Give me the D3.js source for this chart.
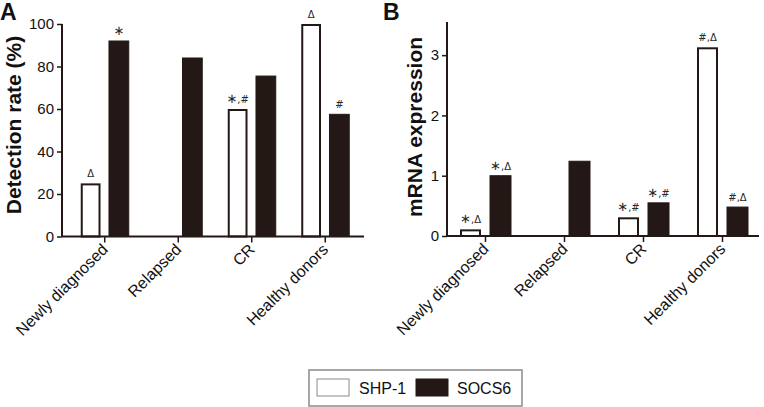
<!DOCTYPE html>
<html>
<head>
<meta charset="utf-8">
<script src="https://cdn.jsdelivr.net/npm/d3@7"></script>
<style>
  html, body { margin: 0; padding: 0; background: #fff; }
  svg { display: block; font-family: Arial, "Liberation Sans", sans-serif; }
</style>
</head>
<body>
<svg id="chart" width="764" height="407"></svg>
<script>
// ---------- data ----------
const categories = ["Newly diagnosed", "Relapsed", "CR", "Healthy donors"];
const seriesNames = ["SHP-1", "SOCS6"];

const detectionSHP1 = [25, 0, 60, 100];
const detectionSOCS6 = [92, 84, 75.5, 57.5];
const detectionTicks = [0, 20, 40, 60, 80, 100];
const detectionMarksSHP1 = ["Δ", "", "∗,#", "Δ"];
const detectionMarksSOCS6 = ["∗", "", "", "#"];

const mrnaSHP1 = [0.11, 0, 0.31, 3.13];
const mrnaSOCS6 = [1.0, 1.24, 0.55, 0.48];
const mrnaTicks = [0, 1, 2, 3];
const mrnaMarksSHP1 = ["∗,Δ", "", "∗,#", "#,Δ"];
const mrnaMarksSOCS6 = ["∗,Δ", "", "∗,#", "#,Δ"];

const dark = "#231815";
const svg = d3.select("#chart");

function panel(opts) {
  const g = svg.append("g");
  const x0 = d3.scaleBand().domain(categories).range(opts.xRange).padding(0);
  const x1 = d3.scaleBand().domain(seriesNames).range([-opts.half, opts.half]).paddingInner(0.3).paddingOuter(0);
  const y = d3.scaleLinear().domain(opts.yDomain).range(opts.yRange);

  const rows = categories.map((c, i) => ({
    cat: c,
    vals: [
      { s: "SHP-1", v: opts.a[i], m: opts.ma[i] },
      { s: "SOCS6", v: opts.b[i], m: opts.mb[i] }
    ]
  }));

  const grp = g.selectAll("g.grp").data(rows).join("g")
    .attr("transform", d => `translate(${x0(d.cat) + x0.bandwidth() / 2},0)`);

  grp.selectAll("rect").data(d => d.vals.filter(v => v.v > 0)).join("rect")
    .attr("x", d => x1(d.s) + (d.s === "SHP-1" ? 1 : 0))
    .attr("width", d => x1.bandwidth() - (d.s === "SHP-1" ? 2 : 0))
    .attr("y", d => y(d.v) + (d.s === "SHP-1" ? 1 : 0))
    .attr("height", d => y(0) - y(d.v) - (d.s === "SHP-1" ? 1 : 0))
    .attr("fill", d => d.s === "SHP-1" ? "#fff" : dark)
    .attr("stroke", dark)
    .attr("stroke-width", d => d.s === "SHP-1" ? 2 : 1);

  const marks = grp.selectAll("text.mark").data(d => d.vals.filter(v => v.m)).join("text")
    .attr("class", "mark")
    .attr("x", d => x1(d.s) + x1.bandwidth() / 2)
    .attr("y", d => y(d.v) - 6)
    .attr("text-anchor", "middle")
    .attr("font-family", "'DejaVu Sans', sans-serif")
    .attr("fill", "#2a2a2a");
  marks.selectAll("tspan").data(d => Array.from(d.m)).join("tspan")
    .attr("font-size", c => c === "∗" ? 13 : 10)
    .text(c => c);

  // y axis
  const ya = g.append("g")
    .attr("transform", `translate(${opts.axisX},0)`)
    .call(d3.axisLeft(y).tickValues(opts.ticks).tickSize(5).tickPadding(3).tickFormat(d3.format("d")));
  ya.select(".domain").attr("stroke", dark).attr("stroke-width", 2)
    .attr("d", `M0,${opts.axisTop}V${y(0)}`);
  ya.selectAll(".tick line").attr("stroke", dark).attr("stroke-width", 1.5);
  ya.selectAll(".tick text").attr("font-size", 15).attr("fill", "#111")
    .attr("font-family", "Arial, 'Liberation Sans', sans-serif");

  // x axis
  const xa = g.append("g")
    .attr("transform", `translate(0,${y(0)})`)
    .call(d3.axisBottom(x0).tickSize(6).tickFormat(""));
  xa.select(".domain").attr("stroke", dark).attr("stroke-width", 2)
    .attr("d", `M${opts.axisX},0H${opts.xEnd}`);
  xa.selectAll(".tick line").attr("stroke", dark).attr("stroke-width", 1.5);

  g.selectAll("text.xlab").data(categories).join("text")
    .attr("class", "xlab")
    .attr("transform", d => `translate(${x0(d) + x0.bandwidth() / 2 + 4},${y(0) + 14}) rotate(-45)`)
    .attr("text-anchor", "end")
    .attr("font-size", 16)
    .attr("fill", "#111")
    .text(d => d);

  // y title
  g.append("text")
    .attr("transform", `translate(${opts.titleX},${opts.titleY}) rotate(-90)`)
    .attr("text-anchor", "middle")
    .attr("font-size", 21)
    .attr("font-weight", "bold")
    .attr("fill", "#111")
    .text(opts.title);

  // panel letter
  g.append("text")
    .attr("x", opts.letterX).attr("y", 20)
    .attr("font-size", 23).attr("font-weight", "bold").attr("fill", "#111")
    .text(opts.letter);
}

panel({
  a: detectionSHP1, b: detectionSOCS6, ma: detectionMarksSHP1, mb: detectionMarksSOCS6,
  ticks: detectionTicks, yDomain: [0, 100], yRange: [236.5, 24],
  xRange: [68, 362], half: 24, axisX: 62, xEnd: 364, axisTop: 24,
  title: "Detection rate (%)", titleX: 21, titleY: 125, letter: "A", letterX: 0
});

panel({
  a: mrnaSHP1, b: mrnaSOCS6, ma: mrnaMarksSHP1, mb: mrnaMarksSOCS6,
  ticks: mrnaTicks, yDomain: [0, 3.5], yRange: [236, 25],
  xRange: [446, 762], half: 25.5, axisX: 447, xEnd: 759, axisTop: 22,
  title: "mRNA expression", titleX: 422, titleY: 127, letter: "B", letterX: 383
});

// legend
const lg = svg.append("g");
lg.append("rect").attr("x", 309).attr("y", 370).attr("width", 213).attr("height", 36)
  .attr("fill", "#fff").attr("stroke", "#8a8a8a").attr("stroke-width", 1.5);
const legendItems = seriesNames.map((s, i) => ({ s, sx: [317, 416][i], tx: [359, 457][i] }));
lg.selectAll("rect.sw").data(legendItems).join("rect")
  .attr("class", "sw")
  .attr("x", d => d.sx).attr("y", 379).attr("width", 32).attr("height", 17)
  .attr("fill", d => d.s === "SHP-1" ? "#fff" : dark)
  .attr("stroke", d => d.s === "SHP-1" ? "#8a8a8a" : dark).attr("stroke-width", 1);
lg.selectAll("text.lt").data(legendItems).join("text")
  .attr("class", "lt")
  .attr("x", d => d.tx).attr("y", 394)
  .attr("font-size", 16).attr("fill", "#111")
  .text(d => d.s);
</script>
</body>
</html>
